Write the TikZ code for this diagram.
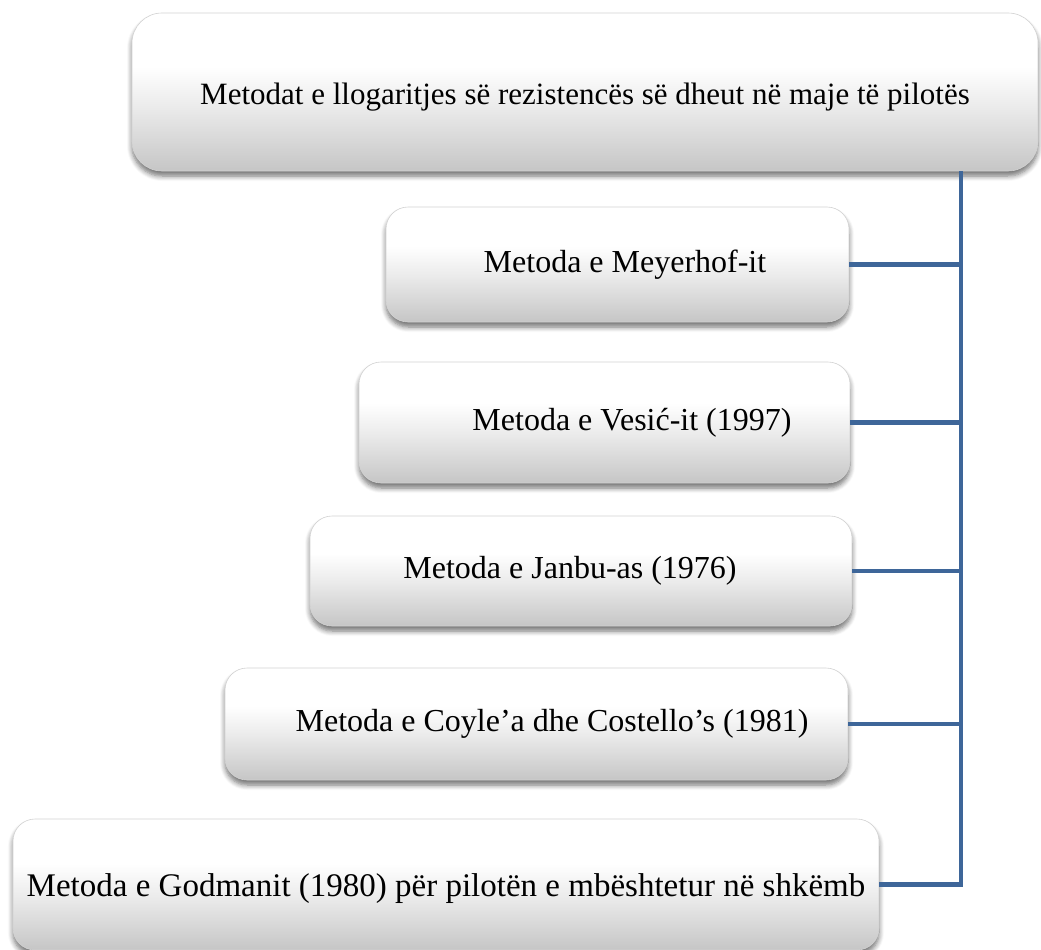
\documentclass[tikz,border=0pt]{standalone}
\usepackage{fontspec}
\setmainfont{Liberation Serif}
\usetikzlibrary{shadows.blur}
\definecolor{linkblue}{RGB}{62,102,153}
\pgfdeclareverticalshading{boxshade}{100bp}{color(0bp)=(gray!45); color(25bp)=(gray!45); color(45bp)=(gray!16); color(58bp)=(white); color(100bp)=(white)}
\begin{document}
\begin{tikzpicture}[x=1pt,y=-1pt,
  mbox/.style={rectangle, rounded corners=22pt, shading=boxshade, draw=gray!35, line width=0.6pt,
    inner sep=0pt, align=center, font=\fontsize{32}{38}\selectfont,
    blur shadow={shadow xshift=0pt, shadow yshift=-5pt, shadow blur steps=6, shadow blur radius=5pt, shadow opacity=55}},
  link/.style={draw=linkblue, line width=4.5pt}]
\useasboundingbox (0,0) rectangle (1041,950);
\node[mbox, rounded corners=30pt, minimum width=906pt, minimum height=158pt,
  font=\fontsize{31}{37}\selectfont] (top) at (585,92)
  {\raisebox{-5pt}[\height][\depth]{Metodat e llogaritjes së rezistencës së dheut në maje të pilotës}};
\node[mbox, minimum width=463pt, minimum height=115pt] (meyer) at (617.5,264.5)
  {\hspace*{15pt}Metoda e Meyerhof-it};
\node[mbox, minimum width=491pt, minimum height=121pt] (vesic) at (604.5,422.5)
  {\hspace*{55pt}Metoda e Vesić-it (1997)};
\node[mbox, minimum width=542pt, minimum height=110pt] (janbu) at (581,571)
  {Metoda e Janbu-as (1976)\hspace*{22pt}};
\node[mbox, minimum width=623pt, minimum height=112pt] (coyle) at (536.5,724)
  {\hspace*{31pt}Metoda e Coyle’a dhe Costello’s (1981)};
\node[mbox, minimum width=866pt, minimum height=131pt, font=\fontsize{33}{39}\selectfont] (god) at (446,884.5)
  {\raisebox{-4pt}[\height][\depth]{Metoda e Godmanit (1980) për pilotën e mbështetur në shkëmb}};
\coordinate (spine) at (961,0);
\draw[link, line join=miter] (top.south -| spine) -- (spine |- god.east) -- (god.east);
\draw[link] (meyer.east) -- (meyer.east -| spine);
\draw[link] (vesic.east) -- (vesic.east -| spine);
\draw[link] (janbu.east) -- (janbu.east -| spine);
\draw[link] (coyle.east) -- (coyle.east -| spine);
\end{tikzpicture}
\end{document}
